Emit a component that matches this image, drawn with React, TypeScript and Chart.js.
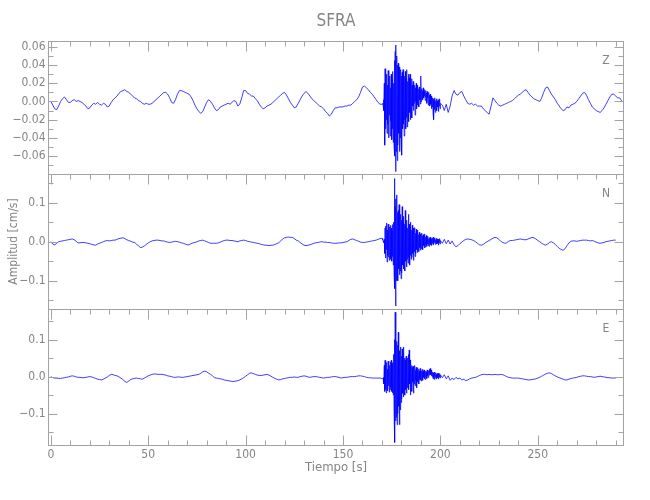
import React, { useEffect, useRef } from 'react';
import { Chart, registerables } from 'chart.js';

Chart.register(...registerables);

// ---------- text / ticks ----------
const chartTitle = 'SFRA';
const xTitle = 'Tiempo [s]';
const yTitle = 'Amplitud [cm/s]';
const componentNames = ['Z', 'N', 'E'];
const xTickValues = [0, 50, 100, 150, 200, 250];
const xTickLabels = ['0', '50', '100', '150', '200', '250'];
const zTickValues = [-0.06, -0.04, -0.02, 0, 0.02, 0.04, 0.06];
const zTickLabels = ['\u22120.06', '\u22120.04', '\u22120.02', '0.00', '0.02', '0.04', '0.06'];
const nTickValues = [-0.1, 0, 0.1];
const nTickLabels = ['\u22120.1', '0.0', '0.1'];
const eTickValues = [-0.1, 0, 0.1];
const eTickLabels = ['\u22120.1', '0.0', '0.1'];

// ---------- sampling (seconds) ----------
const preStart = 0;
const preStep = 1;
const eventStart = 170.2;
const eventStep = 0.2;
const postStart = 201;
const postStep = 1;

// ---------- values, in 0.001 cm/s ----------
// Z component
const zPre = [
  0, -4, -8, -9, -5, 0, 3, 5, 2, -1,
  -1, 1, 2, 0, 1, 0, -1, -3, -5, -8,
  -7, -4, -2, -3, -1, -3, -4, -2, -3, -6,
  -5, -1, 2, 4, 6, 9, 11, 12, 13, 11,
  10, 8, 6, 4, 3, 1, 0, -2, -3, -2,
  -3, -3, -2, 0, 2, 4, 6, 8, 10, 10,
  8, 4, -1, -2, 2, 8, 12, 12, 11, 10,
  9, 8, 5, 1, -4, -8, -11, -13, -11, -6,
  -1, 2, 0, -3, -7, -10, -9, -6, -5, -4,
  -3, -2, -3, -1, 1, 0, -5, -3, 4, 12,
  12, 9, 8, 6, 6, 3, 1, -3, -6, -8,
  -7, -5, -4, -3, -1, 1, 3, 5, 7, 9,
  10, 7, 3, -1, -4, -7, -6, -2, 2, 6,
  9, 11, 9, 6, 3, 1, -1, -3, -5, -6,
  -8, -11, -13, -16, -14, -10, -7, -7, -6, -6,
  -6, -5, -5, -4, -4, -2, 0, 2, 5, 10,
  16, 17, 15, 13, 10, 8, 5, 2, -1, -3,
  -3,
];
const zEvent = [
  -3, -2, -4, 2, -10, 20, -48, 36, -30, 25,
  -20, 30, -35, 18, -25, 34, -40, 22, -15, 28,
  -38, 15, -22, 30, -42, 25, -30, 33, -45, 20,
  -50, 45, -60, 55, -77, 62, -55, 50, -65, 40,
  -48, 42, -35, 38, -55, 30, -40, 35, -45, 28,
  -59, 32, -30, 35, -25, 30, -38, 28, -20, 33,
  -30, 25, -18, 35, -28, 22, -15, 30, -22, 26,
  -12, 30, -20, 20, -8, 25, -18, 18, -5, 22,
  -10, 20, -2, 18, -15, 15, 0, 20, -8, 16,
  -4, 18, 0, 14, -6, 16, 2, 12, -3, 28,
  0, 14, 3, 12, 2, 15, 4, 10, 6, 13,
  1, 12, 5, 9, -2, 11, 4, 8, -4, 10,
  2, 7, -5, 8, -3, 6, -8, 5, -6, 4,
  -12, 3, -20, 2, -9, 4, -12, 1, -7, 3,
  -10, 0, -6, 2, -11, -1, -5, 3, -8, -2,
];
const zPost = [
  -4, -10, -3, -12, -5, 6, 12, 8, 7, 10,
  11, 6, 2, -2, -3, -2, -4, -3, -5, -5,
  -5, -8, -10, -12, -14, -5, 4, 1, -2, -4,
  -5, -4, -3, -2, -1, 0, 1, 3, 5, 7,
  8, 10, 12, 13, 10, 7, 5, 3, 2, 1,
  0, 4, 10, 15, 16, 12, 8, 5, 2, -2,
  -5, -8, -10, -9, -6, -7, -4, -3, -2, 0,
  3, 6, 9, 10, 7, 2, -2, -6, -8, -10,
  -11, -12, -10, -7, -3, 1, 5, 8, 8, 6,
  4, 4, 1, -1,
];

// N component
const nPre = [
  0, -6, -8, -4, 0, 1, 2, 3, 4, 5,
  6, 7, 5, 1, -3, -3, -2, -2, -3, -4,
  -5, -7, -8, -9, -6, -4, -2, 0, 2, 3,
  2, 3, 4, 4, 6, 8, 9, 10, 8, 5,
  3, 1, -1, -2, -6, -11, -15, -14, -11, -7,
  -3, 0, 2, 3, 4, 4, 3, 2, 2, 0,
  -1, -2, -1, 0, 1, 0, -1, -3, -4, -6,
  -8, -8, -5, -3, -2, 0, 2, 3, 4, 2,
  0, -2, -4, -4, -4, -4, -3, -1, 1, 3,
  4, 4, 3, 3, 2, 1, 0, 2, 3, 4,
  3, 1, 0, -1, -2, -3, -4, -5, -7, -8,
  -9, -9, -10, -9, -9, -7, -5, -3, 2, 7,
  10, 11, 12, 11, 11, 8, 4, 2, -2, -6,
  -9, -10, -9, -8, -6, -4, -3, -2, -1, 0,
  -1, -1, -2, -2, -3, -4, -4, -4, -3, -3,
  -2, -1, 0, 3, 6, 7, 5, 3, 1, -1,
  -2, -2, -1, 0, 1, 2, 3, 4, 6, 8,
  9,
];
const nEvent = [
  8, 5, 2, -3, 0, 6, -30, 35, -42, 40,
  -20, 48, -52, 30, -35, 45, -40, 25, -48, 38,
  -30, 42, -45, 35, -50, 28, -38, 44, -60, 50,
  -80, 162, -120, 90, -165, 110, -100, 120, -90, 75,
  -100, 80, -70, 95, -85, 60, -75, 70, -95, 55,
  -80, 90, -60, 50, -70, 65, -55, 45, -75, 80,
  -50, 40, -65, 55, -45, 35, -55, 70, -40, 45,
  -60, 38, -35, 50, -45, 30, -40, 42, -30, 35,
  -48, 28, -25, 36, -38, 22, -30, 32, -20, 26,
  -28, 30, -22, 18, -25, 24, -15, 20, -22, 16,
  -18, 22, -12, 15, -20, 18, -10, 14, -16, 20,
  -14, 12, -8, 16, -12, 10, -6, 14, -10, 8,
  -12, 10, -5, 12, -8, 8, -10, 6, -4, 10,
  -8, 12, -6, 8, -2, 10, -7, 5, -3, 9,
  -6, 7, -4, 6, -9, 4, -2, 8, -6, 3,
];
const nPost = [
  -4, 6, -5, 4, -6, 2, -8, -13, -10, -5,
  -1, 3, 6, 7, 6, 5, 3, 0, -4, -8,
  -9, -7, -3, 0, 3, 6, 9, 11, 10, 6,
  1, -2, -4, -3, 1, 3, 3, 4, 5, 6,
  7, 6, 5, 5, 7, 9, 11, 10, 7, 3,
  0, -4, -7, -9, -6, -2, 0, -3, -7, -12,
  -17, -20, -22, -18, -10, -3, 1, 2, 2, 1,
  2, 3, 4, 4, 4, 3, 2, 3, 1, -1,
  -3, -4, -3, -2, 0, 1, 2, 3, 4, 4,
];

// E component
const ePre = [
  0, -3, -4, -4, -5, -5, -4, -3, -2, -1,
  1, 2, 1, -1, -2, -2, -3, -3, -2, -1,
  0, -1, -3, -5, -7, -8, -9, -7, -4, -1,
  3, 6, 5, 3, 2, -1, -4, -8, -13, -16,
  -12, -8, -6, -5, -4, -5, -6, -7, -4, -1,
  2, 4, 6, 7, 7, 6, 6, 6, 5, 4,
  2, 1, 0, -2, -2, -1, -1, -2, -2, -1,
  0, 1, 2, 3, 4, 5, 6, 9, 13, 15,
  13, 9, 6, 2, -3, -4, -5, -6, -7, -9,
  -10, -11, -12, -13, -13, -12, -11, -9, -6, -3,
  1, 5, 9, 10, 8, 6, 4, 3, 3, 4,
  5, 6, 4, 1, -2, -5, -7, -9, -8, -6,
  -5, -4, -3, -2, -2, -1, -2, -2, 0, 1,
  2, 1, -1, -2, -1, 0, 0, -1, -2, -3,
  -4, -3, -2, -2, -1, 0, 0, -1, -2, -4,
  -3, -2, -2, -1, 0, 0, 0, 1, 2, 2,
  1, 0, -2, -3, -3, -4, -4, -4, -4, -4,
  -5,
];
const eEvent = [
  -5, -4, -6, -2, -20, 30, -40, 44, -35, 25,
  -44, 38, -30, 20, -38, 42, -25, 35, -42, 30,
  -35, 40, -28, 44, -40, 32, -44, 38, -50, 60,
  -90, 100, -178, 174, -120, 130, -110, 95, -130, 85,
  -100, 120, -80, 70, -130, 60, -90, 80, -70, 55,
  -60, 75, -45, 60, -55, 80, -40, 50, -50, 45,
  -35, 55, -45, 40, -30, 50, -25, 60, -35, 72,
  -20, 45, -50, 35, -30, 30, -40, 25, -15, 28,
  -45, 22, -20, 30, -25, 18, -10, 25, -30, 20,
  -15, 24, -12, 20, -20, 15, -8, 22, -10, 18,
  -12, 16, -4, 20, -10, 14, -2, 18, -6, 12,
  -8, 15, 0, 12, -5, 18, 2, 14, -3, 16,
  4, 20, 8, 22, 5, 18, 2, 15, 0, 12,
  -6, 10, -4, 12, -8, 8, -2, 10, -6, 7,
  -5, 8, -3, 9, -7, 6, -1, 8, -4, 5,
];
const ePost = [
  -3, 5, -6, 2, -10, -4, -8, -2, -6, -4,
  -9, -7, -11, -9, -6, -4, -3, -2, 0, 3,
  5, 6, 6, 5, 6, 5, 5, 6, 5, 5,
  6, 5, 3, 0, -2, -3, -4, -4, -4, -4,
  -5, -6, -7, -8, -9, -9, -8, -7, -6, -4,
  -2, 1, 4, 7, 9, 10, 8, 5, 2, -1,
  -3, -5, -7, -9, -9, -7, -5, -4, -3, -2,
  0, 1, 2, 2, 1, 0, 0, -1, -2, -1,
  0, 1, 0, -1, -2, -3, -3, -4, -4, -4,
];

// ---------- styling ----------
const FONT = "'DejaVu Sans Condensed', 'Liberation Sans Narrow', 'DejaVu Sans', sans-serif";
const AXIS_COLOR = '#a3a3a3';
const TEXT_COLOR = '#858585';
const LINE_COLOR = 'rgba(0, 0, 255, 0.85)';

function buildSeries(pre: number[], ev: number[], post: number[]) {
  const pts: { x: number; y: number }[] = [];
  pre.forEach((v, i) => pts.push({ x: preStart + i * preStep, y: v / 1000 }));
  ev.forEach((v, i) => pts.push({ x: Math.round((eventStart + i * eventStep) * 10) / 10, y: v / 1000 }));
  post.forEach((v, i) => pts.push({ x: postStart + i * postStep, y: v / 1000 }));
  return pts;
}

const panels = [
  { id: 'yZ', name: componentNames[0], minorStep: 0.01, majorEvery: 2, minK: -7, maxK: 6 },
  { id: 'yN', name: componentNames[1], minorStep: 0.05, majorEvery: 2, minK: -3, maxK: 3 },
  { id: 'yE', name: componentNames[2], minorStep: 0.05, majorEvery: 2, minK: -3, maxK: 3 },
];

const framePlugin = {
  id: 'seisFrames',
  afterDraw(chart: any) {
    const ctx = chart.ctx as CanvasRenderingContext2D;
    const { left, right } = chart.chartArea;
    const xs = chart.scales.x;
    const L = Math.round(left - 0.5) + 0.5;
    const R = Math.round(right - 0.5) + 0.5;
    ctx.save();
    ctx.strokeStyle = AXIS_COLOR;
    ctx.lineWidth = 1;
    const line = (x1: number, y1: number, x2: number, y2: number) => {
      ctx.beginPath();
      ctx.moveTo(x1, y1);
      ctx.lineTo(x2, y2);
      ctx.stroke();
    };
    panels.forEach((p, idx) => {
      const s = chart.scales[p.id];
      const T = Math.round(s.top) + 0.5;
      const B = Math.round(s.bottom) + 0.5;
      ctx.strokeRect(L, T, R - L, B - T);
      for (let k = 0; k <= 29; k++) {
        const t = k * 10;
        const px = Math.round(xs.getPixelForValue(t)) + 0.5;
        const len = k % 5 === 0 ? 10 : 5;
        line(px, T, px, T + len);
        if (idx === panels.length - 1) line(px, B, px, B - len);
      }
      for (let k = p.minK; k <= p.maxK; k++) {
        const v = k * p.minorStep;
        const py = Math.round(s.getPixelForValue(v)) + 0.5;
        if (py <= T + 1 || py >= B - 1) continue;
        const len = k % p.majorEvery === 0 ? 9 : 5;
        line(L, py, L + len, py);
        line(R, py, R - len, py);
      }
      ctx.fillStyle = TEXT_COLOR;
      ctx.font = `12px ${FONT}`;
      ctx.textAlign = 'center';
      ctx.textBaseline = 'middle';
      ctx.fillText(p.name, right - 17.5, s.top + 20);
    });
    ctx.restore();
  },
};

function yScale(weight: number, min: number, max: number, values: number[], labels: string[], withTitle: boolean) {
  return {
    type: 'linear',
    position: 'left',
    stack: 'panels',
    stackWeight: weight,
    min,
    max,
    afterBuildTicks: (s: any) => {
      s.ticks = values.map((v) => ({ value: v }));
    },
    afterFit: (s: any) => {
      s.width = 48.5;
    },
    ticks: {
      callback: (_v: any, i: number) => labels[i],
      color: TEXT_COLOR,
      font: { family: FONT, size: 12 },
      padding: 3,
      autoSkip: false,
    },
    grid: { display: false, drawTicks: false },
    border: { display: false },
    title: {
      display: withTitle,
      text: yTitle,
      color: TEXT_COLOR,
      font: { family: FONT, size: 12 },
      padding: { top: 7, bottom: 0 },
    },
  };
}

export default function App() {
  const canvasRef = useRef<HTMLCanvasElement | null>(null);

  useEffect(() => {
    if (!canvasRef.current) return;
    const chart = new Chart(canvasRef.current, {
      type: 'line',
      data: {
        datasets: [
          { label: 'Z', data: buildSeries(zPre, zEvent, zPost), yAxisID: 'yZ' },
          { label: 'N', data: buildSeries(nPre, nEvent, nPost), yAxisID: 'yN' },
          { label: 'E', data: buildSeries(ePre, eEvent, ePost), yAxisID: 'yE' },
        ].map((d) => ({
          ...d,
          borderColor: LINE_COLOR,
          borderWidth: 0.9,
          pointRadius: 0,
          tension: 0,
          fill: false,
        })),
      },
      options: {
        animation: false,
        responsive: false,
        parsing: false,
        normalized: true,
        layout: { padding: { top: 0, right: 26.5, bottom: 0, left: 0 } },
        plugins: {
          legend: { display: false },
          tooltip: { enabled: false },
          title: {
            display: true,
            text: chartTitle,
            fullSize: false,
            color: TEXT_COLOR,
            font: { family: FONT, size: 17, weight: 'normal' },
            padding: { top: 11, bottom: 9.6 },
          },
        },
        scales: {
          x: {
            type: 'linear',
            min: -1.2,
            max: 294,
            afterBuildTicks: (s: any) => {
              s.ticks = xTickValues.map((v) => ({ value: v }));
            },
            afterFit: (s: any) => {
              s.height = 55;
            },
            ticks: {
              callback: (_v: any, i: number) => xTickLabels[i],
              color: TEXT_COLOR,
              font: { family: FONT, size: 12 },
              padding: 3,
              maxRotation: 0,
              autoSkip: false,
            },
            grid: { display: false, drawTicks: false },
            border: { display: false },
            title: {
              display: true,
              text: xTitle,
              color: TEXT_COLOR,
              font: { family: FONT, size: 13 },
              padding: { top: 0, bottom: 25 },
            },
          },
          // stacked scales: the first declared is placed at the bottom
          yE: yScale(136, -0.1849, 0.1827, eTickValues, eTickLabels, false),
          yN: yScale(135, -0.1726, 0.1736, nTickValues, nTickLabels, true),
          yZ: yScale(133, -0.0797, 0.0665, zTickValues, zTickLabels, false),
        },
      } as any,
      plugins: [framePlugin],
    });
    return () => chart.destroy();
  }, []);

  return (
    <div style={{ position: 'absolute', left: 0, top: 0, width: 650, height: 500, background: '#fff' }}>
      <canvas ref={canvasRef} width={650} height={500} />
    </div>
  );
}
